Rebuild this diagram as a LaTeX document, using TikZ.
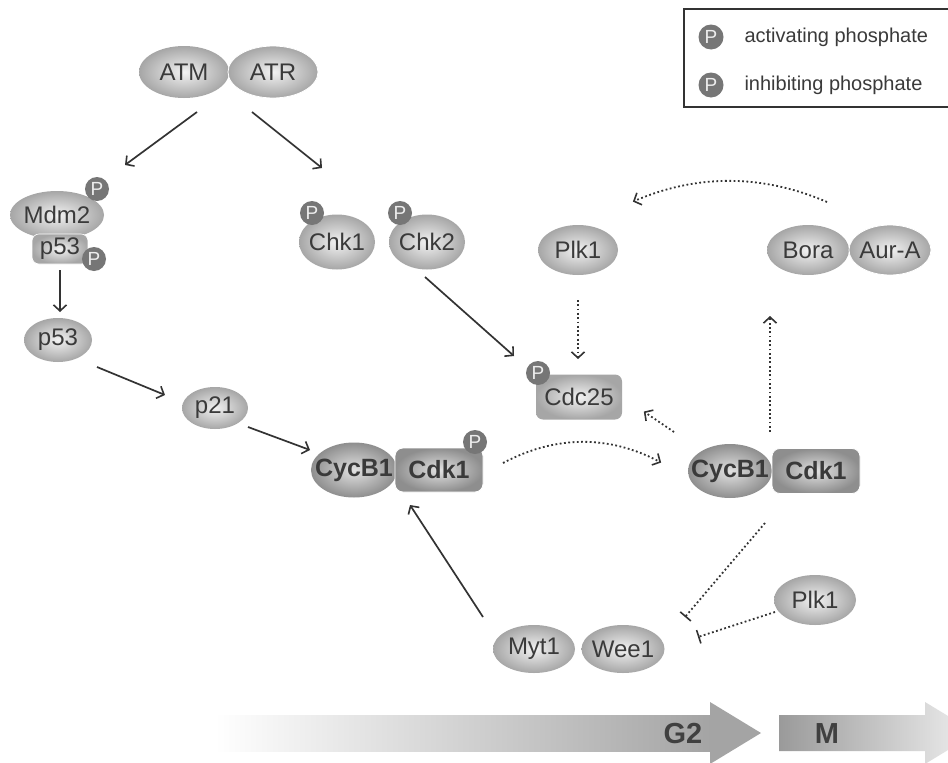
\documentclass[tikz,border=0pt]{standalone}
\usepackage{fontspec}
\setmainfont{Liberation Sans}
\usetikzlibrary{shapes.geometric,arrows.meta,calc}
\definecolor{pc0}{HTML}{F2F2F2}
\definecolor{pc1}{HTML}{A6A6A6}
\definecolor{dc0}{HTML}{E2E2E2}
\definecolor{dc1}{HTML}{8E8E8E}
\definecolor{txt}{HTML}{3A3A3A}
\definecolor{pcol}{HTML}{767676}
\definecolor{acol}{HTML}{333333}
\definecolor{gtwo}{HTML}{A4A4A4}
\definecolor{mdark}{HTML}{9A9A9A}
\definecolor{mlight}{HTML}{F0F0F0}
\pgfdeclareradialshading{protshade}{\pgfpoint{0bp}{0bp}}{color(0bp)=(pc0); color(25bp)=(pc1); color(50bp)=(pc1)}
\pgfdeclareradialshading{cdkshade}{\pgfpoint{0bp}{0bp}}{color(0bp)=(dc0); color(25bp)=(dc1); color(50bp)=(dc1)}
\begin{document}
\begin{tikzpicture}[x=1pt,y=-1pt,
  lbl/.style={text=txt, font=\fontsize{24}{26}\selectfont},
  prot/.style={ellipse, shading=protshade, inner xsep=-6pt, inner ysep=0pt, lbl},
  protbox/.style={rectangle, rounded corners=7pt, shading=protshade, inner sep=0pt, lbl},
  cyc/.style={ellipse, shading=cdkshade, inner xsep=-16pt, inner ysep=-4pt, text=txt, font=\fontsize{25}{26}\selectfont\bfseries},
  cdk/.style={rectangle, rounded corners=8pt, shading=cdkshade, draw=white, line width=0.8pt, inner sep=0pt, text=txt, font=\fontsize{25}{26}\selectfont\bfseries},
  pball/.style={circle, fill=pcol, minimum size=24pt, inner sep=0pt, text=white!93!black, font=\fontsize{19}{19}\selectfont},
  act/.style={draw=acol, line width=1.7pt, -{Straight Barb[length=6pt,width=13pt,line width=1.6pt]}},
  dotact/.style={draw=acol, line width=1.8pt, dash pattern=on 1.8pt off 2.5pt, -{Straight Barb[length=6pt,width=13pt,line width=1.6pt,sep=1pt]}},
  inh/.style={draw=acol, line width=1.8pt, dash pattern=on 1.8pt off 2.5pt, -{Bar[width=14pt,line width=1.6pt]}},
  phase/.style={text=black!75, font=\fontsize{29}{29}\selectfont\bfseries}
]
\useasboundingbox (0,0) rectangle (948,763);
\fill[white] (0,0) rectangle (948,763);

% legend
\draw[acol, line width=1.6pt] (684,9) rectangle (960,107);
\node[pball, minimum size=25pt] (lp1) at (711,37) {P};
\node[pball, minimum size=25pt] (lp2) at (711,85) {P};
\node[anchor=west, text=txt, font=\fontsize{20}{22}\selectfont] (lt1) at (741,37) {activating phosphate};
\node[anchor=west, text=txt, font=\fontsize{20}{22}\selectfont] (lt2) at (741,85) {inhibiting phosphate};

% ATM / ATR
\node[prot, minimum width=90pt, minimum height=52pt] (ATM) at (184,72) {ATM};
\node[prot, minimum width=90pt, minimum height=52pt, draw=white, line width=0.8pt] (ATR) at (273,72) {ATR};

% Mdm2 / p53
\node[prot, minimum width=94pt, minimum height=48pt] (Mdm2) at (57,215) {Mdm2};
\node[protbox, minimum width=56pt, minimum height=30pt, draw=white, line width=0.6pt] (p53box) at (60,249) {p53};
\node[pball] (Pmdm) at (97,189) {P};
\node[pball] (Pp53) at (94,259) {P};
\node[prot, minimum width=68pt, minimum height=44pt] (p53) at (58,340) {p53};
\node[prot, minimum width=66pt, minimum height=42pt] (p21) at (215,408) {p21};

% Chk1 / Chk2
\node[prot, minimum width=76pt, minimum height=55pt] (Chk1) at (337,242) {Chk1};
\node[prot, minimum width=76pt, minimum height=55pt] (Chk2) at (427,242) {Chk2};
\node[pball] (Pchk1) at (312,213) {P};
\node[pball] (Pchk2) at (400,213) {P};

% CycB1/Cdk1 left
\node[cyc, minimum width=86pt, minimum height=55pt] (CycA) at (354,470) {CycB1};
\node[cdk, minimum width=88pt, minimum height=44pt] (CdkA) at (439,470) {Cdk1};
\node[pball] (PcdkA) at (475,442) {P};

% Plk1, Cdc25
\node[prot, minimum width=80pt, minimum height=50pt] (PlkA) at (578,250) {Plk1};
\node[protbox, minimum width=86pt, minimum height=45pt] (Cdc25) at (579,397) {Cdc25};
\node[pball] (Pcdc) at (538,373) {P};

% Bora / Aur-A
\node[prot, minimum width=82pt, minimum height=50pt] (Bora) at (808,250) {Bora};
\node[prot, minimum width=82pt, minimum height=50pt, draw=white, line width=0.8pt] (AurA) at (890,250) {Aur-A};

% CycB1/Cdk1 right
\node[cyc, minimum width=84pt, minimum height=54pt] (CycB) at (730,471) {CycB1};
\node[cdk, minimum width=88pt, minimum height=45pt] (CdkB) at (816,471) {Cdk1};

% Plk1 bottom, Myt1, Wee1
\node[prot, minimum width=82pt, minimum height=50pt] (PlkB) at (815,600) {Plk1};
\node[prot, minimum width=82pt, minimum height=48pt] (Myt1) at (534,649) {Myt1};
\node[prot, minimum width=83pt, minimum height=48pt] (Wee1) at (623,649) {Wee1};

% solid arrows
\draw[act] ($(ATM)+(13,40)$) -- ($(Mdm2)+(68,-50)$);
\draw[act] ($(ATR)+(-21,40)$) -- ($(Chk1)+(-15,-74)$);
\draw[act] ($(p53box)+(0,21)$) -- ($(p53)+(2,-28)$);
\draw[act] ($(p53)+(39,27)$) -- ($(p21)+(-50,-13)$);
\draw[act] ($(p21)+(33,19)$) -- ($(CycA)+(-44,-20)$);
\draw[act] ($(Chk2)+(-2,35)$) -- ($(Cdc25)+(-65,-41)$);
\draw[act] ($(Myt1)+(-51,-32)$) -- ($(CycA)+(56,35)$);

% dotted arrows
\draw[dotact] ($(PlkA)+(0,50)$) -- ($(Cdc25)+(-1,-37)$);
\draw[dotact] ($(CycB)+(-56,-39)$) -- ($(Cdc25)+(64,14)$);
\draw[dotact] ($(Bora)+(19,-48)$) .. controls +(-65,-28) and +(65,-28) .. ($(PlkA)+(54,-48)$);
\draw[dotact] ($(CdkB)+(-46,-39)$) -- ($(Bora)+(-38,65)$);
\draw[dotact] ($(CdkA)+(64,-7)$) .. controls +(53,-28) and +(-53,-28) .. ($(CycB)+(-68,-8)$);

% inhibitions
\draw[inh] ($(CycB)+(35,52)$) -- ($(Wee1)+(62,-32)$);
\draw[inh] ($(PlkB)+(-40,12)$) -- ($(Wee1)+(75,-12)$);

% phase arrows
\shade[left color=white, right color=gtwo] (215,715) rectangle (711,751);
\fill[gtwo] (710,702) -- (761,733) -- (710,764) -- cycle;
\shade[left color=mdark, right color=mlight] (779,715) -- (925,715) -- (925,702) -- (976,733) -- (925,764) -- (925,751) -- (779,751) -- cycle;
\node[phase] (G2) at (683,734) {G2};
\node[phase] (M) at (827,734) {M};
\end{tikzpicture}
\end{document}
